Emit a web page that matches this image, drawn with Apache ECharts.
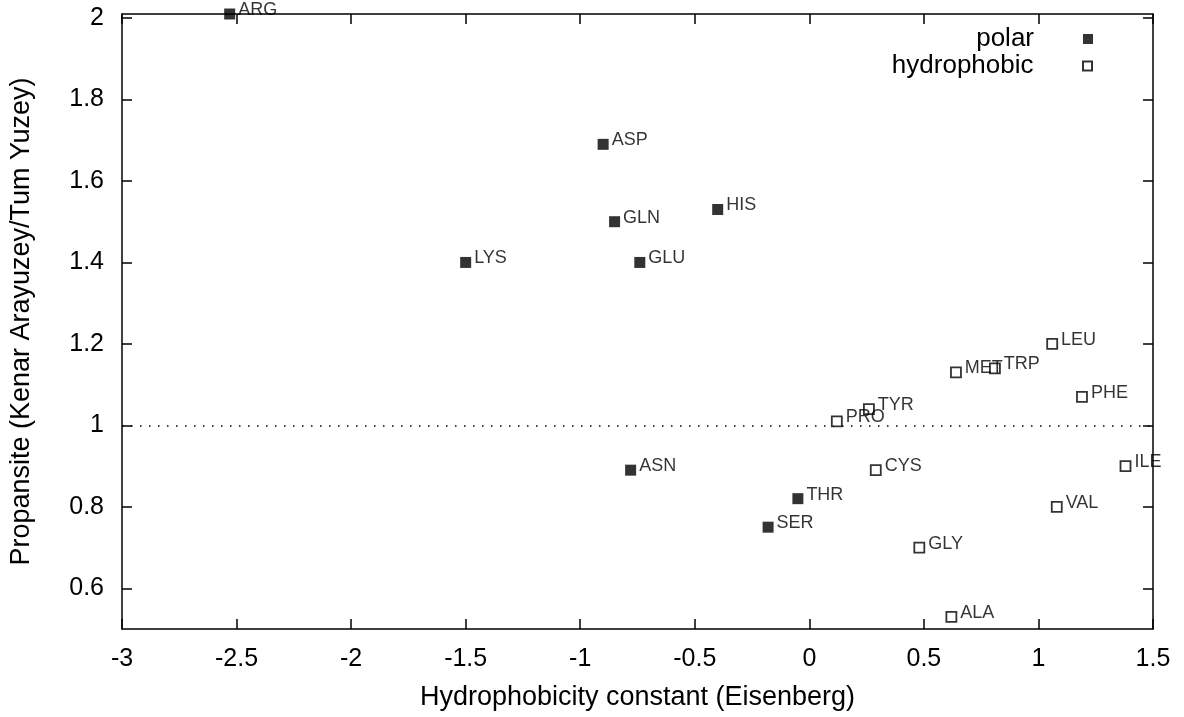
<!DOCTYPE html>
<html>
<head>
<meta charset="utf-8">
<script src="https://cdn.jsdelivr.net/npm/echarts@6/dist/echarts.min.js"></script>
<style>
html,body{margin:0;padding:0;background:#fff;}
#chart{width:1184px;height:717px;}
</style>
</head>
<body>
<div id="chart"></div>
<script>
// ---- data ----
const polarNames = ['ARG', 'ASP', 'GLN', 'HIS', 'LYS', 'GLU', 'ASN', 'THR', 'SER'];
const polarX = [-2.53, -0.90, -0.85, -0.40, -1.50, -0.74, -0.78, -0.05, -0.18];
const polarY = [2.01, 1.69, 1.50, 1.53, 1.40, 1.40, 0.89, 0.82, 0.75];

const hydroNames = ['PRO', 'TYR', 'MET', 'TRP', 'LEU', 'PHE', 'CYS', 'ILE', 'VAL', 'GLY', 'ALA'];
const hydroX = [0.12, 0.26, 0.64, 0.81, 1.06, 1.19, 0.29, 1.38, 1.08, 0.48, 0.62];
const hydroY = [1.01, 1.04, 1.13, 1.14, 1.20, 1.07, 0.89, 0.90, 0.80, 0.70, 0.53];

const yTicks = [0.6, 0.8, 1.0, 1.2, 1.4, 1.6, 1.8, 2.0];
const refLineY = 1;

const seriesNames = ['polar', 'hydrophobic'];
const xTitle = 'Hydrophobicity constant (Eisenberg)';
const yTitle = 'Propansite (Kenar Arayuzey/Tum Yuzey)';

// ---- chart ----
const FONT = '"Liberation Sans", Arial, Helvetica, sans-serif';
const sq = 'path://M0,0H10V10H0Z';

function pts(xs, ys, ns) {
  return xs.map((x, i) => ({ value: [x, ys[i]], name: ns[i] }));
}

const axisLine = { show: true, onZero: false, lineStyle: { color: '#000', width: 1.5 } };
const tickStyle = { lineStyle: { color: '#000', width: 1.5 } };

const labelCfg = {
  show: true,
  position: 'right',
  distance: 3,
  offset: [0, -4],
  formatter: p => p.name,
  color: '#000',
  fontFamily: FONT,
  fontSize: 18
};

const chart = echarts.init(document.getElementById('chart'), null, { renderer: 'canvas' });
chart.setOption({
  backgroundColor: '#fff',
  animation: false,
  grid: { left: 121, right: 31, top: 14, bottom: 88, containLabel: false },
  legend: [
    {
      data: [{ name: seriesNames[0], icon: sq }],
      right: 86, top: 21, align: 'right', orient: 'vertical',
      itemWidth: 98, itemHeight: 10, symbolKeepAspect: true,
      textStyle: { fontFamily: FONT, fontSize: 26, color: '#000' },
      selectedMode: false
    },
    {
      data: [{ name: seriesNames[1], icon: sq }],
      right: 86, top: 48, align: 'right', orient: 'vertical',
      itemWidth: 98, itemHeight: 9, symbolKeepAspect: true,
      textStyle: { fontFamily: FONT, fontSize: 26, color: '#000' },
      selectedMode: false
    }
  ],
  xAxis: [
    {
      type: 'value', min: -3, max: 1.5, interval: 0.5,
      position: 'bottom',
      name: xTitle, nameLocation: 'middle', nameGap: 55,
      nameTextStyle: { fontFamily: FONT, fontSize: 27, color: '#000' },
      axisLine: axisLine,
      axisTick: Object.assign({ show: true, inside: true, length: 10 }, tickStyle),
      axisLabel: { color: '#000', fontFamily: FONT, fontSize: 25, margin: 18 },
      splitLine: { show: false }
    },
    {
      type: 'value', min: -3, max: 1.5, interval: 0.5,
      position: 'top',
      axisLine: axisLine,
      axisTick: Object.assign({ show: true, inside: true, length: 10 }, tickStyle),
      axisLabel: { show: false },
      splitLine: { show: false }
    }
  ],
  yAxis: [
    {
      type: 'value', min: 0.5, max: 2.01,
      position: 'left',
      name: yTitle, nameLocation: 'middle', nameGap: 87, nameRotate: 90,
      nameTextStyle: { fontFamily: FONT, fontSize: 27, color: '#000' },
      axisLine: axisLine,
      axisTick: Object.assign({ show: true, inside: true, length: 10, customValues: yTicks }, tickStyle),
      axisLabel: { color: '#000', fontFamily: FONT, fontSize: 25, margin: 18, customValues: yTicks },
      splitLine: { show: false }
    },
    {
      type: 'value', min: 0.5, max: 2.01,
      position: 'right',
      axisLine: axisLine,
      axisTick: Object.assign({ show: true, inside: true, length: 10, customValues: yTicks }, tickStyle),
      axisLabel: { show: false, customValues: yTicks },
      splitLine: { show: false }
    }
  ],
  series: [
    {
      name: seriesNames[0],
      type: 'scatter',
      xAxisIndex: 0, yAxisIndex: 0,
      symbol: 'rect',
      symbolSize: 11,
      itemStyle: { color: '#000' },
      label: labelCfg,
      data: pts(polarX, polarY, polarNames),
      z: 3,
      markLine: {
        silent: true,
        symbol: ['none', 'none'],
        label: { show: false },
        lineStyle: { color: '#000', width: 1.5, type: [1.5, 7.5] },
        data: [{ yAxis: refLineY }],
        z: 1
      }
    },
    {
      name: seriesNames[1],
      type: 'scatter',
      xAxisIndex: 0, yAxisIndex: 0,
      symbol: 'rect',
      symbolSize: 10,
      itemStyle: { color: '#fff', borderColor: '#000', borderWidth: 1.8 },
      label: labelCfg,
      data: pts(hydroX, hydroY, hydroNames),
      z: 3
    }
  ]
});
</script>
</body>
</html>
